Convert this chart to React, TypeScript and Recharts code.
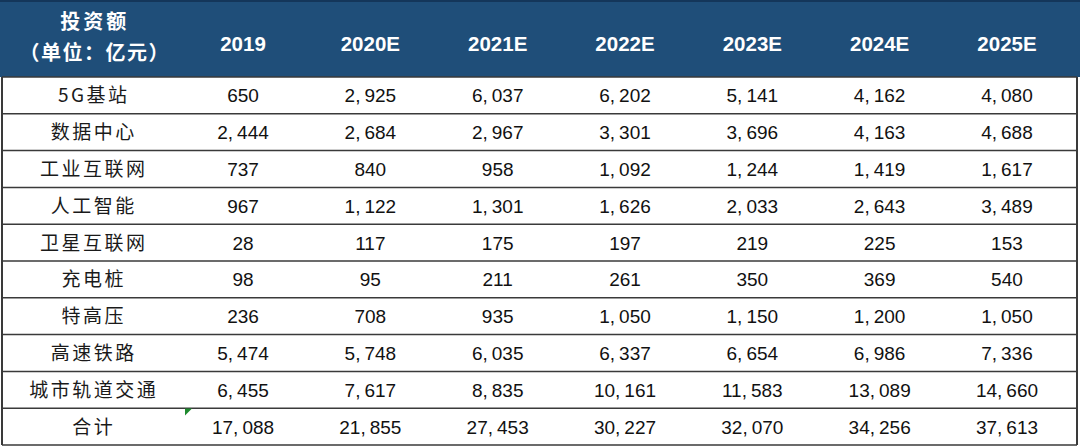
import { ScatterChart, Scatter, XAxis, YAxis, ReferenceLine } from "recharts";

// 投资额（单位：亿元）
const years = ["2019", "2020E", "2021E", "2022E", "2023E", "2024E", "2025E"];
const rowNames = [
  "5G基站",
  "数据中心",
  "工业互联网",
  "人工智能",
  "卫星互联网",
  "充电桩",
  "特高压",
  "高速铁路",
  "城市轨道交通",
  "合计",
];

const base5G = [650, 2925, 6037, 6202, 5141, 4162, 4080];
const dataCenter = [2444, 2684, 2967, 3301, 3696, 4163, 4688];
const industrialNet = [737, 840, 958, 1092, 1244, 1419, 1617];
const ai = [967, 1122, 1301, 1626, 2033, 2643, 3489];
const satelliteNet = [28, 117, 175, 197, 219, 225, 153];
const charging = [98, 95, 211, 261, 350, 369, 540];
const uhv = [236, 708, 935, 1050, 1150, 1200, 1050];
const highSpeedRail = [5474, 5748, 6035, 6337, 6654, 6986, 7336];
const urbanRail = [6455, 7617, 8835, 10161, 11583, 13089, 14660];
const totals = [17088, 21855, 27453, 30227, 32070, 34256, 37613];

const rowValues = [
  base5G,
  dataCenter,
  industrialNet,
  ai,
  satelliteNet,
  charging,
  uhv,
  highSpeedRail,
  urbanRail,
  totals,
];

const cells = rowValues.flatMap((vals, r) =>
  vals.map((v, c) => ({ col: c + 1, row: r, value: v }))
);
const labels = rowNames.map((name, r) => ({ col: 0, row: r, name }));

const X_MIN = -0.893;
const X_MAX = 7.55;
const HEADER_H = 77;
const NAVY = "#1f4e79";
const LINE = "#3a3a3a";
const CJK = "'Noto Sans CJK SC', 'Noto Sans', sans-serif";
const NUM = "'Liberation Sans', Arial, sans-serif";
const LABEL_DX = -22;

function HeaderTick(props: any) {
  const { x, payload } = props;
  const v = payload.value;
  if (v === 0) {
    return (
      <g>
        <text x={x + LABEL_DX + 1} y={29} textAnchor="middle" fill="#fff" fontFamily={CJK} fontWeight={700} fontSize={20} letterSpacing={3}>
          投资额
        </text>
        <text x={x + LABEL_DX + 1} y={60} textAnchor="middle" fill="#fff" fontFamily={CJK} fontWeight={700} fontSize={20} letterSpacing={1.5}>
          （单位：亿元）
        </text>
      </g>
    );
  }
  return (
    <text x={x} y={51} textAnchor="middle" fill="#fff" fontFamily={NUM} fontWeight={700} fontSize={20.5}>
      {years[v - 1]}
    </text>
  );
}

function ValueCell(props: any) {
  const { cx, cy, payload } = props;
  const parts = payload.value.toLocaleString("en-US").split(",");
  const isTotalFirst = payload.row === rowValues.length - 1 && payload.col === 1;
  return (
    <g>
      {isTotalFirst && (
        <polygon
          points={`${cx - 58},${cy - 18} ${cx - 51},${cy - 18} ${cx - 58},${cy - 11}`}
          fill="#1e8a2e"
        />
      )}
      <text x={cx} y={cy + 7} textAnchor="middle" fill="#111" fontFamily={NUM} fontSize={19}>
        {parts.map((p: string, i: number) => (
          <tspan key={i} dx={i > 0 ? 4 : 0}>
            {i < parts.length - 1 ? p + "," : p}
          </tspan>
        ))}
      </text>
    </g>
  );
}

function LabelCell(props: any) {
  const { cx, cy, payload } = props;
  return (
    <text x={cx + LABEL_DX} y={cy + 7} textAnchor="middle" fill="#1a1a1a" fontFamily={CJK} fontSize={19} letterSpacing={2.5}>
      {payload.name}
    </text>
  );
}

export default function App() {
  const boundaries = rowNames.map((_, i) => i - 0.5).concat([rowNames.length - 0.5]);
  return (
    <div style={{ position: "relative", width: 1080, height: 446, background: "#fff" }}>
      <style>{"body{margin:0}"}</style>
      <div
        style={{
          position: "absolute",
          left: 0,
          top: 0,
          width: 1080,
          height: HEADER_H,
          background: NAVY,
          borderTop: "2px solid #14365a",
          boxSizing: "border-box",
        }}
      />
      <ScatterChart width={1080} height={446} margin={{ top: 0, right: 3, bottom: 1, left: 2 }}>
        <XAxis
          type="number"
          dataKey="col"
          orientation="top"
          domain={[X_MIN, X_MAX]}
          allowDataOverflow
          ticks={[0, 1, 2, 3, 4, 5, 6, 7]}
          interval={0}
          height={HEADER_H}
          axisLine={false}
          tickLine={false}
          tick={<HeaderTick />}
        />
        <YAxis
          type="number"
          dataKey="row"
          domain={[-0.5, rowNames.length - 0.5]}
          allowDataOverflow
          reversed
          hide
        />
        {boundaries.map((b) => (
          <ReferenceLine key={b} y={b} stroke={LINE} strokeWidth={1.5} />
        ))}
        <ReferenceLine x={X_MIN} stroke={LINE} strokeWidth={2} />
        <ReferenceLine x={X_MAX} stroke={LINE} strokeWidth={2} />
        <Scatter data={labels} isAnimationActive={false} shape={<LabelCell />} />
        <Scatter data={cells} isAnimationActive={false} shape={<ValueCell />} />
      </ScatterChart>
    </div>
  );
}
